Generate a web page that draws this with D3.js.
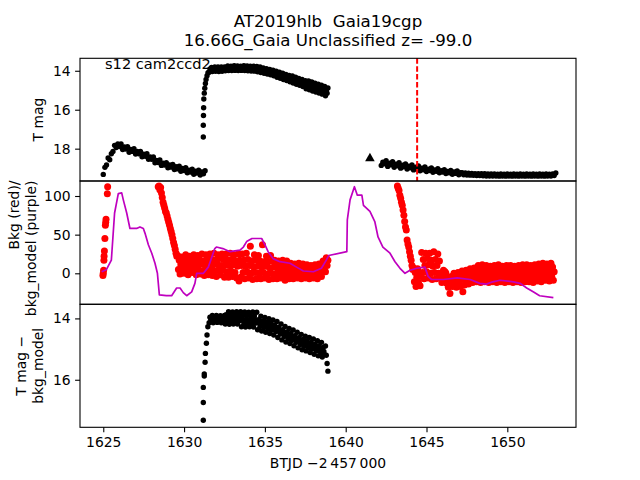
<!DOCTYPE html>
<html><head><meta charset="utf-8">
<script src="https://cdn.jsdelivr.net/npm/d3@7"></script>
<style>body{margin:0;background:#fff}svg{display:block}text{font-family:"DejaVu Sans",sans-serif}</style>
</head><body><svg id="c" width="640" height="480"></svg>
<script>
// ---------------- DATA ----------------
const titleLines = ["AT2019hlb  Gaia19cgp", "16.66G_Gaia Unclassified z= -99.0"];
const sectorLabel = "s12 cam2ccd2";
const xTicks = [1625, 1630, 1635, 1640, 1645, 1650];
const magTicksTop = [14, 16, 18];
const bkgTicks = [0, 50, 100];
const magTicksBottom = [14, 16];
const discoveryT = 1644.42;

// top panel: T mag, segment A (start, cadence, values)
const magA_start = 1625.0, magA_step = 0.1;
const magA = [19.32,18.96,18.84,18.48, 18.57,18.26,18.14,17.83, 17.94,17.76,17.89,17.76, 18.04,17.91,18.02,17.9,
 18.18,18.04,18.14,18.0, 18.27,18.14,18.26,18.14, 18.42,18.29,18.39,18.26, 18.54,18.42,18.54,18.43,
 18.72,18.6,18.71,18.58, 18.86,18.74,18.84,18.72, 18.98,18.84,18.95,18.81, 19.07,18.93,19.04,18.9,
 19.16,19.02,19.12,18.98, 19.24,19.1,19.2,19.05, 19.31,19.16,19.25,19.1, 19.35,19.2,19.29,19.13];
// segment B rise (explicit times)
const magBriseT = [1631.19,1631.19,1631.2,1631.21,1631.22,1631.25,1631.28,1631.32,1631.36,1631.42,1631.48];
const magBrise  = [17.4,16.8,16.3,15.9,15.45,15.15,14.9,14.65,14.45,14.25,14.1];
const magB_start = 1631.55, magB_step = 0.05;
const magB = [14.07,13.91,14.0,13.83, 14.04,13.88,13.97,13.8, 14.03,13.89,13.96,13.81, 14.04,13.87,13.97,13.8, 14.03,13.88,13.98,13.81,
 14.0,13.83,13.92,13.75, 13.99,13.84,13.91,13.76, 13.99,13.83,13.92,13.74, 13.98,13.82,13.93,13.75, 13.99,13.84,13.92,13.76,
 13.98,13.82,13.91,13.74, 13.99,13.83,13.92,13.75, 14.0,13.84,13.93,13.76, 14.01,13.85,13.94,13.77, 14.02,13.86,13.95,13.78,
 14.05,13.89,13.98,13.81, 14.09,13.93,14.02,13.85, 14.13,13.97,14.06,13.89, 14.17,14.01,14.1,13.93, 14.21,14.05,14.14,13.97,
 14.26,14.1,14.19,14.02, 14.33,14.15,14.25,14.07, 14.39,14.21,14.31,14.13, 14.45,14.27,14.37,14.19, 14.5,14.32,14.42,14.24,
 14.57,14.37,14.47,14.27, 14.63,14.43,14.53,14.33, 14.69,14.49,14.59,14.39, 14.75,14.55,14.65,14.45, 14.81,14.61,14.71,14.51,
 14.92,14.65,14.79,14.52, 14.98,14.71,14.85,14.58, 15.04,14.77,14.91,14.64, 15.09,14.82,14.96,14.69, 15.14,14.87,15.01,14.74,
 15.2,14.93,15.07,14.8, 15.28,15.01,15.15,14.88];
const upperLimitT = [1641.5], upperLimitMag = [18.5];
const magC_start = 1642.2, magC_step = 0.1;
const magC = [18.86,18.70,18.78,18.62, 18.91,18.75,18.83,18.67, 18.96,18.80,18.88,18.72, 19.0,18.85,18.93,18.78,
 19.05,18.9,18.98,18.83, 19.09,18.95,19.03,18.89, 19.14,19.0,19.08,18.94, 19.17,19.05,19.12,18.99,
 19.21,19.09,19.16,19.03, 19.24,19.13,19.2,19.08, 19.28,19.17,19.24,19.12, 19.31,19.2,19.27,19.15, 19.34,19.23,
 19.24,19.34,19.25,19.35,19.26,19.36,19.27,19.37,19.28,19.38,
 19.28,19.38,19.29,19.39,19.29,19.40,19.30,19.40,19.30,19.40,
 19.30,19.40,19.31,19.41,19.30,19.40,19.31,19.41,19.30,19.40,
 19.31,19.41,19.30,19.40,19.31,19.41,19.30,19.40,19.31,19.41,
 19.30,19.40,19.31,19.41,19.30,19.40,19.31,19.41,19.30,19.40,
 19.31,19.41,19.30,19.40,19.31,19.40,19.30,19.38,19.25];

// middle panel: background (red)
const bkgA_T = [1624.98,1625.0,1625.02,1625.04,1625.05,1625.07,1625.1,1625.13,1625.15,1625.17,1625.25,1625.27];
const bkgA = [-3,0,4,17,22,29,45,62,66,70,103,112];
const bkgB_start = 1628.4, bkgB_step = 0.05;
const bkgB = [112,113,108,111,104,98,92,88,84,80,78,74,70,66,62,58,54,50,45,40,36,31,26,22,
 23,5,17,-1,11, 21,6,18,0,12, 24,4,16,-2,10, 22,5,17,1,11,
 24,4,17,-2,11, 23,5,18,-1,12, 25,3,16,-3,10, 24,5,17,-2,11,
 25,4,18,-3,11, 26,3,17,-4,12, 24,5,19,-2,10, 25,4,18,-5,11,
 25,2,17,-5,10, 26,3,18,-4,11, 24,1,16,-6,9, 25,-10,17,-5,10,
 25,1,17,-7,9, 26,2,18,-6,10, 35,0,16,-8,8, 24,1,17,-7,9,
 23,0,16,-7,8, 37,1,15,-6,9, 22,-1,15,-8,7, 23,0,16,-7,8,
 17,-1,11,-7,5, 16,0,12,-6,4, 17,-1,11,-9,5, 16,-1,10,-7,5,
 13,-2,8,-7,3, 12,-2,8,-6,2, 13,-3,7,-7,3, 12,-2,8,-6,4,
 11,-2,6,-7,2, 10,-3,7,-6,2, 11,-2,6,-7,3, 12,0,8,-4,5,
 16,4,12,2,20,10,17];
const bkgC_start = 1643.2, bkgC_step = 0.05;
const bkgC = [113,110,107,101,97,92,88,82,75,67,60,56,43,38,34,28,22,17,10,5,
 7,-11,1,-17,-5, 6,-12,0,-16,-4, 27,1,18,-7,10, 26,2,19,-6,11,
 26,0,17,-8,9, 28,1,18,-7,10, 25,0,16,-6, -2,-12,-6,4,-4,2,
 0,-13,-5,-18,-9, -26,-14,-4,-17,-8, 0,-13,-5,-18,-9, 1,-12,-4,-17,-8,
 3,-24,-2,-15,-6, 4,-9,0,-14,-4, 6,-7,2,-12,-2, 7,-6,3,-11,-1,
 10,-6,4,-12,-1, 11,-7,5,-11,0, 10,-6,4,-12,-1, 9,-5,6,-11,-2,
 10,-7,5,-12,-1, 11,-6,4,-11,0, 9,-6,5,-12,-1, 10,-7,4,-11,-2,
 10,-6,5,-12,-1, 9,-7,4,-11,0, 10,-6,5,-12,-2, 11,-7,4,-11,-1,
 11,-6,5,-11,0, 10,-5,6,-12,1, 11,-6,5,-10,0, 12,-5,6,-11,1,
 13,-4,8,-9,2, 12,-3,7,-10,3, 13,-4,8,-9,2];
// background model (purple line)
const modelT = [1624.9,1625.2,1625.5,1625.7,1625.93,1626.14,1626.24,1626.45,1626.65,1627.06,1627.27,1627.48,1627.58,1627.79,1628.0,1628.2,1628.35,1628.47,1628.9,1629.23,1629.54,1629.75,1629.95,1630.16,1630.47,1630.67,1630.78,1631.2,1631.5,1631.9,1632.0,1632.4,1632.84,1633.46,1633.67,1633.87,1634.2,1634.8,1635.0,1635.2,1635.5,1635.93,1636.55,1636.96,1637.38,1638.0,1638.5,1638.8,1638.95,1640.07,1640.1,1640.27,1640.54,1640.72,1641.0,1641.1,1641.5,1641.8,1642.0,1642.3,1642.74,1643.05,1643.36,1643.67,1643.98,1644.4,1644.9,1645.1,1645.3,1646.05,1646.9,1647.7,1648.3,1648.7,1649.1,1649.55,1650.37,1650.8,1651.2,1651.6,1652.0,1652.85];
const modelV = [2,5,17,78,103,104,95,78,58,58,60,58,52,37,26,13,0,-28,-29,-29,-19,-19,-25,-29,-24,-13,0,0,8,32,34,32,28,30,34,41,45,45,37,28,19,15,13,8,3,2,6.5,17,23,28,69,95,112,101,101,88,80,67,47,34,26,15,6.5,0,4,6.5,8,-4,-8,-8,-6,-8,-13,-14,-11,-9,-11,-13,-19,-24,-29,-31.5];

// bottom panel: T mag - bkg_model
const diffRiseT = [1631.19,1631.19,1631.19,1631.25,1631.25,1631.3,1631.32,1631.38,1631.42,1631.47];
const diffRise = [17.32,16.74,16.25,15.88,15.81,15.43,15.14,14.81,14.54,14.27];
const diff_start = 1631.55, diff_step = 0.05;
const diff = [14.14,13.96,14.02,14.08,13.9, 14.14,13.96,14.03,14.08,13.9, 14.13,13.97,14.02,14.08,13.91, 14.14,13.96,14.02,14.09,13.9,
 14.18,13.88,13.98,14.08,13.78, 14.19,13.88,13.97,14.08,13.79, 14.18,13.89,13.98,14.07,13.78, 14.18,13.88,13.99,14.08,13.78,
 14.27,13.91,14.03,14.15,13.79, 14.28,13.91,14.04,14.15,13.8, 14.27,13.92,14.03,14.16,13.79, 14.28,13.92,14.04,14.15,13.8,
 14.37,14.04,14.15,14.26,13.93, 14.41,14.08,14.19,14.3,13.97, 14.45,14.12,14.23,14.34,14.01, 14.49,14.16,14.27,14.38,14.05,
 14.54,14.21,14.32,14.43,14.1, 14.62,14.29,14.4,14.51,14.18, 14.7,14.37,14.48,14.59,14.26, 14.77,14.44,14.55,14.66,14.33,
 14.82,14.49,14.6,14.71,14.38, 14.89,14.56,14.67,14.78,14.45, 14.96,14.63,14.74,14.85,14.52, 15.02,14.69,14.8,14.91,14.58,
 15.06,14.73,14.84,14.95,14.62, 15.11,14.78,14.89,15.0,14.67, 15.17,14.84,14.95,15.06,14.73, 15.22,14.89,15.0,15.11,14.78,
 15.26,14.95,15.08,15.18,14.9,15.2,15.47,15.72];

// ---------------- DRAW ----------------
const svg = d3.select("#c");
const L = 80, R = 576;
const P = [{t:58.3,b:181},{t:181,b:304.3},{t:304.3,b:427.3}];
const x = d3.scaleLinear().domain([1623.56,1654.25]).range([L,R]);
const y1 = d3.scaleLinear().domain([13.36,19.66]).range([P[0].t,P[0].b]);
const y2 = d3.scaleLinear().domain([119.4,-40.1]).range([P[1].t,P[1].b]);
const y3 = d3.scaleLinear().domain([13.54,17.55]).range([P[2].t,P[2].b]);

const seq = (start, step, vals) => vals.map((v,i)=>[start+i*step, v]);
const pairs = (ts, vs) => ts.map((t,i)=>[t, vs[i]]);

const defs = svg.append("defs");
P.forEach((p,i)=>defs.append("clipPath").attr("id","clip"+i).append("rect")
  .attr("x",L).attr("y",p.t).attr("width",R-L).attr("height",p.b-p.t));

function dots(g, data, ys, r, color){
  g.selectAll(null).data(data).enter().append("circle")
   .attr("cx",d=>x(d[0])).attr("cy",d=>ys(d[1])).attr("r",r).attr("fill",color);
}
const FS = 13.9;
const RB = 2.7, RR = 3.5;
// panel 1
const g1 = svg.append("g").attr("clip-path","url(#clip0)");
dots(g1, seq(magA_start,magA_step,magA), y1, RB, "#000");
dots(g1, pairs(magBriseT,magBrise), y1, RB, "#000");
dots(g1, seq(magB_start,magB_step,magB), y1, RB, "#000");
dots(g1, seq(magC_start,magC_step,magC), y1, RB, "#000");
g1.selectAll(null).data(pairs(upperLimitT,upperLimitMag)).enter().append("path")
  .attr("d", d3.symbol(d3.symbolTriangle, 40)())
  .attr("transform", d=>`translate(${x(d[0])},${y1(d[1])})`).attr("fill","#000");
svg.append("line").attr("x1",x(discoveryT)).attr("x2",x(discoveryT))
  .attr("y1",P[0].t).attr("y2",P[0].b).attr("stroke","#ff0000").attr("stroke-width",2)
  .attr("stroke-dasharray","5.5,2.4");

// panel 2
const g2 = svg.append("g").attr("clip-path","url(#clip1)");
dots(g2, pairs(bkgA_T,bkgA), y2, RR, "#ff0000");
dots(g2, seq(bkgB_start,bkgB_step,bkgB), y2, RR, "#ff0000");
dots(g2, seq(bkgC_start,bkgC_step,bkgC), y2, RR, "#ff0000");
g2.append("path").datum(pairs(modelT,modelV))
  .attr("d", d3.line().x(d=>x(d[0])).y(d=>y2(d[1])))
  .attr("fill","none").attr("stroke","#bf00bf").attr("stroke-width",1.7).attr("stroke-linejoin","round");

// panel 3
const g3 = svg.append("g").attr("clip-path","url(#clip2)");
dots(g3, pairs(diffRiseT,diffRise), y3, RB, "#000");
dots(g3, seq(diff_start,diff_step,diff), y3, RB, "#000");

// frames
P.forEach(p=>svg.append("rect").attr("x",L).attr("y",p.t).attr("width",R-L).attr("height",p.b-p.t)
  .attr("fill","none").attr("stroke","#000").attr("stroke-width",1.1));

function styleAxis(g){
  g.select(".domain").remove();
  g.selectAll(".tick line").attr("stroke","#000").attr("stroke-width",1.1);
  g.selectAll(".tick text").attr("fill","#000").style("font-size",FS+"px").style("font-family","DejaVu Sans");
}
svg.append("g").attr("transform",`translate(0,${P[2].b})`)
  .call(d3.axisBottom(x).tickValues(xTicks).tickFormat(d3.format("d")).tickSize(4.9).tickPadding(4.5)).call(styleAxis);
[[y1,magTicksTop],[y2,bkgTicks],[y3,magTicksBottom]].forEach(([ys,tv])=>{
  svg.append("g").attr("transform",`translate(${L},0)`)
   .call(d3.axisLeft(ys).tickValues(tv).tickFormat(d3.format("d")).tickSize(4.9).tickPadding(4.5)).call(styleAxis);
});

// texts
svg.append("text").attr("x",328).attr("y",26.7).attr("text-anchor","middle").style("font-size","16.67px")
  .style("white-space","pre").text(titleLines[0]);
svg.append("text").attr("x",328).attr("y",45.5).attr("text-anchor","middle").style("font-size","16.67px")
  .text(titleLines[1]);
svg.append("text").attr("x",105).attr("y",68.5).style("font-size","14.6px").text(sectorLabel);
svg.append("text").attr("x",328).attr("y",467.5).attr("text-anchor","middle").style("font-size",FS+"px")
  .text("BTJD \u22122\u2009457\u2009000");

function ylab(lines, xs, yPos, anchor){
  lines.forEach((s,i)=>{
    svg.append("text").attr("transform",`translate(${xs[i]},${yPos}) rotate(-90)`)
      .attr("text-anchor",anchor).style("font-size",FS+"px").text(s);
  });
}
ylab(["T mag"],[43],(P[0].t+P[0].b)/2,"middle");
ylab(["Bkg (red)/","bkg_model (purple)"],[19,35.5],180.5,"end");
ylab(["T mag \u2212","bkg_model"],[26,42.5],(P[2].t+P[2].b)/2,"middle");
</script></body></html>
